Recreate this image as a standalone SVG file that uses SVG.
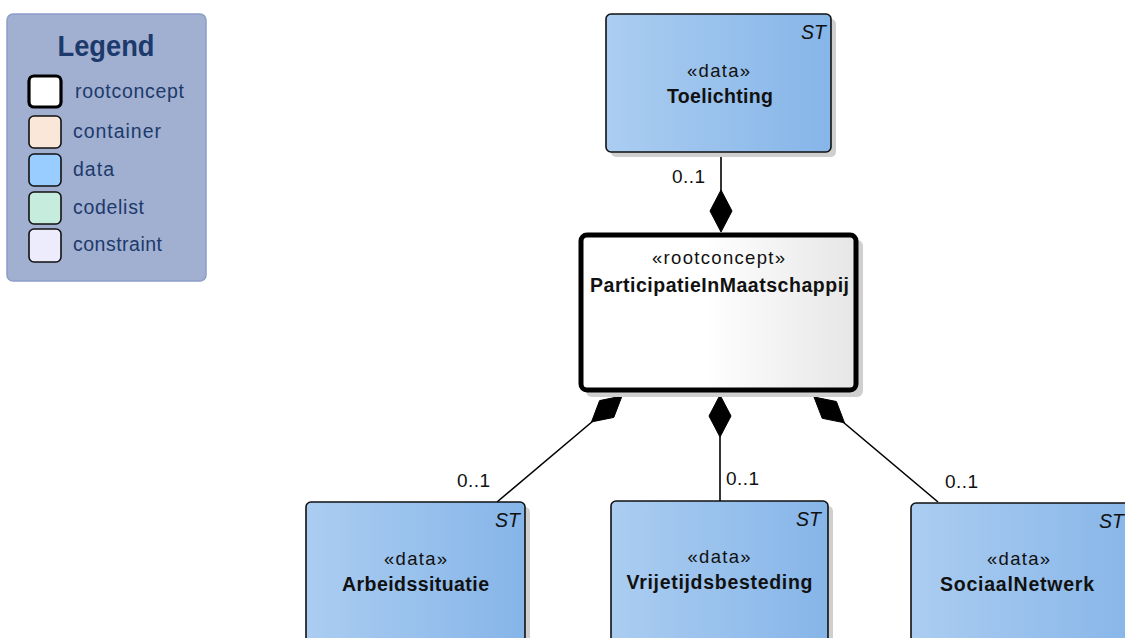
<svg xmlns="http://www.w3.org/2000/svg" width="1125" height="638" viewBox="0 0 1125 638">
<defs>
<linearGradient id="gData" x1="0" y1="0" x2="1" y2="0">
<stop offset="0" stop-color="#abcdf1"/>
<stop offset="1" stop-color="#86b5e8"/>
</linearGradient>
<linearGradient id="gRoot" x1="0" y1="0" x2="1" y2="0">
<stop offset="0" stop-color="#ffffff"/>
<stop offset="0.45" stop-color="#ffffff"/>
<stop offset="1" stop-color="#e6e6e6"/>
</linearGradient>
<style>
.shadow{fill:#cfcfcf}
.data{fill:url(#gData);stroke:#111;stroke-width:1.6}
.root{fill:url(#gRoot);stroke:#000;stroke-width:5}
.t{font-family:"Liberation Sans",Arial,sans-serif;fill:#111;text-anchor:middle}
.st{font-size:18.5px}
.nm{font-size:19.5px;font-weight:bold}
.it{font-family:"Liberation Sans",Arial,sans-serif;font-style:italic;font-size:19.5px;fill:#111;text-anchor:end}
.lbl{font-family:"Liberation Sans",Arial,sans-serif;font-size:19px;fill:#111}
.con{stroke:#000;stroke-width:1.6;fill:none}
.dia{fill:#000;stroke:#000;stroke-width:1}
.lg{font-family:"Liberation Sans",Arial,sans-serif;font-size:19.5px;fill:#1c3a6b}
.sw{stroke:#111;stroke-width:1.6}
</style>
</defs>
<rect width="1125" height="638" fill="#ffffff"/>

<g id="legend">
<rect x="7" y="14" width="199" height="267" rx="6" fill="#a1afd1" stroke="#8d9dc9" stroke-width="1.5"/>
<text x="106" y="56" font-family="&quot;Liberation Sans&quot;,Arial,sans-serif" font-size="30" font-weight="bold" fill="#1c3a6b" text-anchor="middle" textLength="97" lengthAdjust="spacingAndGlyphs">Legend</text>
<rect x="29" y="76" width="32" height="31" rx="5" fill="#ffffff" stroke="#000" stroke-width="3.2"/>
<text class="lg" x="75" y="98" textLength="109" lengthAdjust="spacing">rootconcept</text>
<rect x="29" y="116" width="32" height="32" rx="5" fill="#fbe7d9" class="sw"/>
<text class="lg" x="73" y="138" textLength="88" lengthAdjust="spacing">container</text>
<rect x="29" y="154" width="32" height="32" rx="5" fill="#99ccff" class="sw"/>
<text class="lg" x="73" y="176" textLength="41" lengthAdjust="spacing">data</text>
<rect x="29" y="192" width="32" height="32" rx="5" fill="#c6ecdd" class="sw"/>
<text class="lg" x="73" y="214" textLength="71" lengthAdjust="spacing">codelist</text>
<rect x="29" y="229" width="32" height="33" rx="5" fill="#ececfd" class="sw"/>
<text class="lg" x="73" y="251" textLength="89" lengthAdjust="spacing">constraint</text>
</g>

<g id="connectors">
<line class="con" x1="721" y1="152" x2="721" y2="192"/>
<polygon class="dia" points="721,190 732,211 721,232 710,211"/>
<text class="lbl" x="672" y="183" textLength="33" lengthAdjust="spacing">0..1</text>

<line class="con" x1="720" y1="436" x2="720" y2="501"/>
<polygon class="dia" points="720,395 731,416 720,437 709,416"/>
<text class="lbl" x="726" y="485" textLength="33" lengthAdjust="spacing">0..1</text>

<line class="con" x1="593" y1="421" x2="497" y2="502"/>
<polygon class="dia" points="622,396 613.8,417.4 591.5,421.9 599.6,400.6"/>
<text class="lbl" x="457" y="487" textLength="33" lengthAdjust="spacing">0..1</text>

<line class="con" x1="843" y1="422" x2="938" y2="502"/>
<polygon class="dia" points="814,397 836.4,401.5 844.5,422.8 822.2,418.3"/>
<text class="lbl" x="945" y="488" textLength="33" lengthAdjust="spacing">0..1</text>
</g>

<g id="node-toelichting">
<rect class="shadow" x="611" y="19" width="225" height="138" rx="5"/>
<rect class="data" x="606" y="14" width="225" height="138" rx="5"/>
<text class="it" x="826" y="39">ST</text>
<text class="t st" x="718.5" y="77" textLength="63" lengthAdjust="spacing">«data»</text>
<text class="t nm" x="720" y="103" textLength="106" lengthAdjust="spacing">Toelichting</text>
</g>

<g id="node-root">
<rect class="shadow" x="586" y="240" width="277" height="157" rx="6"/>
<rect class="root" x="581" y="235" width="275" height="155" rx="6"/>
<text class="t st" x="718.5" y="264" textLength="133" lengthAdjust="spacing">«rootconcept»</text>
<text class="t nm" x="719.5" y="292" textLength="259" lengthAdjust="spacing">ParticipatieInMaatschappij</text>
</g>

<g id="node-arbeidssituatie">
<rect class="shadow" x="311" y="507" width="219" height="150" rx="5"/>
<rect class="data" x="306" y="502" width="219" height="150" rx="5"/>
<text class="it" x="520" y="527">ST</text>
<text class="t st" x="415.5" y="565" textLength="63" lengthAdjust="spacing">«data»</text>
<text class="t nm" x="415.5" y="591" textLength="147" lengthAdjust="spacing">Arbeidssituatie</text>
</g>

<g id="node-vrijetijdsbesteding">
<rect class="shadow" x="616" y="506" width="217" height="150" rx="5"/>
<rect class="data" x="611" y="501" width="217" height="150" rx="5"/>
<text class="it" x="821" y="526">ST</text>
<text class="t st" x="719" y="563" textLength="63" lengthAdjust="spacing">«data»</text>
<text class="t nm" x="719.5" y="589" textLength="186" lengthAdjust="spacing">Vrijetijdsbesteding</text>
</g>

<g id="node-sociaalnetwerk">
<rect class="shadow" x="916" y="508" width="230" height="150" rx="5"/>
<rect class="data" x="911" y="503" width="230" height="150" rx="5"/>
<text class="it" x="1124" y="528">ST</text>
<text class="t st" x="1018.5" y="565" textLength="63" lengthAdjust="spacing">«data»</text>
<text class="t nm" x="1017" y="591" textLength="154" lengthAdjust="spacing">SociaalNetwerk</text>
</g>
</svg>
